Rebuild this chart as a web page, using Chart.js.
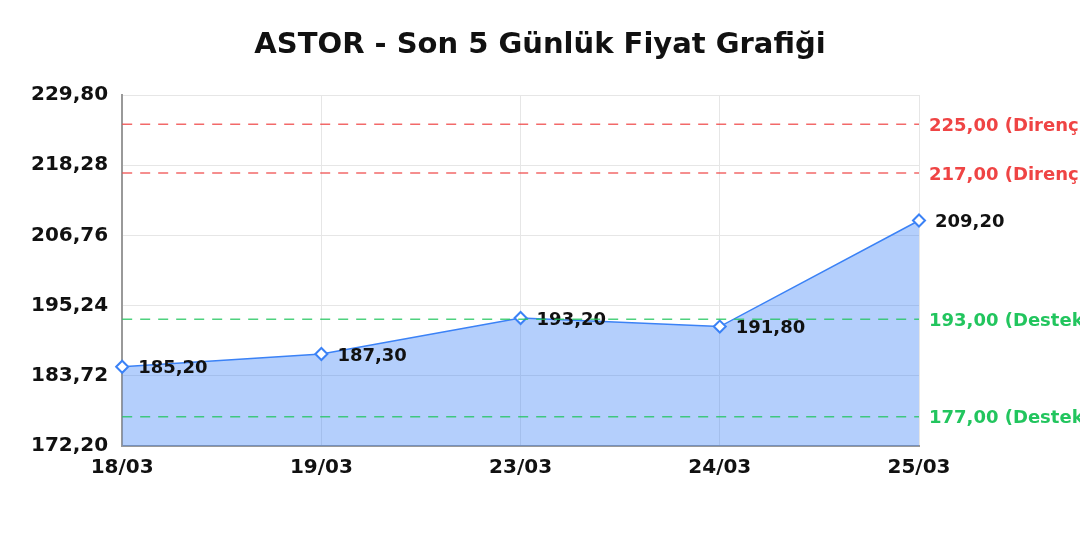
<!DOCTYPE html>
<html>
<head>
<meta charset="utf-8">
<script src="https://cdn.jsdelivr.net/npm/chart.js@4/dist/chart.umd.min.js"></script>
<style>
html,body{margin:0;padding:0;background:#fff;font-family:"DejaVu Sans";}
#wrap{width:1080px;height:540px;}
</style>
</head>
<body>
<div id="wrap"><canvas id="c" width="1080" height="540"></canvas></div>
<script>
const categories = ['18/03', '19/03', '23/03', '24/03', '25/03'];
const prices = [185.20, 187.30, 193.20, 191.80, 209.20];
const yTicks = [172.20, 183.72, 195.24, 206.76, 218.28, 229.80];
const levelValues = [225.00, 217.00, 193.00, 177.00];
const levelNames = ['Direnç', 'Direnç', 'Destek', 'Destek'];
const levelColors = ['#ef4444', '#ef4444', '#22c55e', '#22c55e'];
const titleText = 'ASTOR - Son 5 Günlük Fiyat Grafiği';

const fmt = v => v.toFixed(2).replace('.', ',');
const FONT = '"DejaVu Sans", Verdana, sans-serif';

const labelsPlugin = {
  id: 'labelsPlugin',
  afterDatasetsDraw(chart) {
    const ctx = chart.ctx;
    const meta = chart.getDatasetMeta(0);
    ctx.save();
    ctx.font = "bold 18px " + FONT;
    ctx.fillStyle = '#111';
    ctx.textAlign = 'left';
    ctx.textBaseline = 'middle';
    meta.data.forEach((pt, i) => {
      ctx.fillText(fmt(prices[i]), pt.x + 16, pt.y + 2);
    });
    const ys = chart.scales.y;
    const area = chart.chartArea;
    levelValues.forEach((v, i) => {
      const y = ys.getPixelForValue(v);
      ctx.strokeStyle = levelColors[i];
      ctx.globalAlpha = 0.8;
      ctx.lineWidth = 1.6;
      ctx.setLineDash([10, 8]);
      ctx.beginPath();
      ctx.moveTo(area.left, y);
      ctx.lineTo(area.right, y);
      ctx.stroke();
      ctx.globalAlpha = 1;
      ctx.setLineDash([]);
      ctx.fillStyle = levelColors[i];
      ctx.font = "bold 18px " + FONT;
      ctx.fillText(fmt(v) + ' (' + levelNames[i] + ')', area.right + 10, y + 2);
    });
    ctx.fillStyle = '#111';
    ctx.font = "bold 29px " + FONT;
    ctx.textAlign = 'center';
    ctx.fillText(titleText, chart.width / 2, 45);
    ctx.restore();
  }
};

new Chart(document.getElementById('c'), {
  type: 'line',
  data: {
    labels: categories,
    datasets: [{
      data: prices,
      borderColor: '#3b82f6',
      borderWidth: 1.5,
      backgroundColor: 'rgba(59,130,246,0.38)',
      fill: 'start',
      tension: 0,
      pointStyle: 'rectRot',
      pointRadius: 6,
      pointBorderWidth: 2,
      pointBackgroundColor: '#fff',
      pointBorderColor: '#3b82f6'
    }]
  },
  options: {
    responsive: false,
    devicePixelRatio: 1,
    animation: false,
    layout: { padding: { left: 17, right: 161, top: 95, bottom: 50 } },
    plugins: {
      legend: { display: false },
      tooltip: { enabled: false },
      title: { display: false }
    },
    scales: {
      x: {
        offset: false,
        grid: { color: '#e6e6e6', drawTicks: false },
        border: { color: '#999', width: 2 },
        ticks: { color: '#111', font: { family: FONT, size: 20, weight: 'bold' }, padding: 10, maxRotation: 0 }
      },
      y: {
        min: yTicks[0],
        max: yTicks[yTicks.length - 1],
        afterBuildTicks(scale) { scale.ticks = yTicks.map(v => ({ value: v })); },
        grid: { color: '#e6e6e6', drawTicks: false },
        border: { color: '#999', width: 2 },
        ticks: { color: '#111', font: { family: FONT, size: 20, weight: 'bold' }, padding: 14,
                 callback: v => fmt(v) }
      }
    }
  },
  plugins: [labelsPlugin]
});
</script>
</body>
</html>
